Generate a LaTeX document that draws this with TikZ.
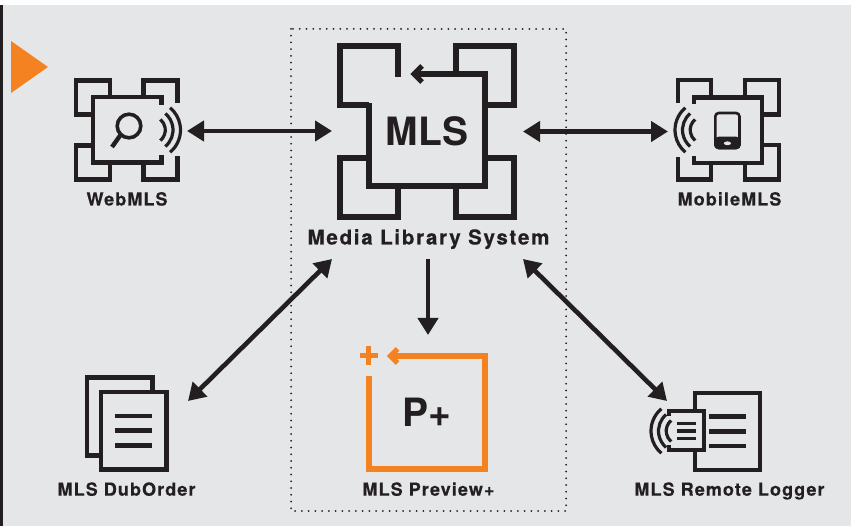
\documentclass[tikz,border=0pt]{standalone}
\usepackage{fontspec}
\setmainfont{TeX Gyre Heros}
\newfontfamily\labfont{TeX Gyre Heros Bold}[LetterSpace=6,FakeBold=0.4]
\newfontfamily\medfont{TeX Gyre Heros Bold}[LetterSpace=8.5,FakeBold=0.4]
\newfontfamily\bigfont{TeX Gyre Heros Bold}[LetterSpace=0.5]
\usetikzlibrary{arrows.meta}
\definecolor{bgray}{HTML}{E5E6E8}
\definecolor{ink}{HTML}{231F20}
\definecolor{mlsorange}{HTML}{F58220}
\tikzset{
 frame/.style={draw=ink,line width=4.4pt,line cap=butt,line join=miter},
 bigframe/.style={draw=ink,line width=5.6pt,line cap=butt,line join=miter},
 orangeline/.style={draw=mlsorange,line width=5.6pt,line cap=butt,line join=miter},
 rule/.style={draw=ink,line width=4.5pt},
 wave/.style={draw=ink,line width=3.2pt},
 link/.style={draw=ink,line width=4.6pt,{Triangle[length=17pt,width=20pt]}-{Triangle[length=17pt,width=20pt]}},
 linkone/.style={draw=ink,line width=4.6pt,-{Triangle[length=17pt,width=20pt]}},
 lab/.style={text=ink,inner sep=0pt,anchor=base,font=\labfont\fontsize{18}{20}\selectfont},
 medlab/.style={text=ink,inner sep=0pt,anchor=base,font=\medfont\fontsize{20.5}{22}\selectfont},
 bigtext/.style={text=ink,inner sep=0pt,anchor=base,font=\bigfont\fontsize{39}{44}\selectfont}
}
\newcommand{\wavesat}[3]{% centre x, centre y, direction (0 right, 180 left)
 \foreach \r in {13.8,21.5,29}{
  \draw[wave] ({#1+\r*cos(#3-50)},{#2-\r*sin(#3-50)}) arc[start angle=#3-50,end angle=#3+50,radius=\r pt,y radius=\r pt,x radius=\r pt];
 }}
\begin{document}
\begin{tikzpicture}[x=1pt,y=-1pt]
\useasboundingbox (0,0) rectangle (854,526);
\fill[white] (0,0) rectangle (854,526);
\fill[bgray] (3,5) rectangle (851,526);
\fill[ink] (0,5) rectangle (3,526);
\fill[mlsorange] (11,41) -- (48,67) -- (11,93) -- cycle;
% dotted box
\draw[ink,line width=2pt,line cap=round,dash pattern=on 0pt off 6.75pt] (291,29) rectangle (566,511);

% WebMLS icon
\draw[frame] (93,114.5) -- (76,114.5) -- (76,80.5) -- (110,80.5) -- (110,97);
\draw[frame] (143.5,97) -- (143.5,80.5) -- (177.5,80.5) -- (177.5,103);
\draw[frame] (93,145.5) -- (76,145.5) -- (76,179.5) -- (110,179.5) -- (110,162.5);
\draw[frame] (143.5,162.5) -- (143.5,179.5) -- (177.5,179.5) -- (177.5,156);
\draw[frame] (161.5,105) -- (161.5,97) -- (93,97) -- (93,162.5) -- (161.5,162.5) -- (161.5,155);
\draw[draw=ink,line width=3.6pt] (129,126) circle[radius=11.8pt];
\draw[draw=ink,line width=4.4pt] (120.5,135) -- (112,147);
\wavesat{151.5}{130}{0}

% MobileMLS icon
\draw[frame] (677.7,103) -- (677.7,80) -- (711,80) -- (711,97.5);
\draw[frame] (745,97.5) -- (745,80) -- (779,80) -- (779,114.5) -- (762,114.5);
\draw[frame] (762,145) -- (779,145) -- (779,179.5) -- (745,179.5) -- (745,163);
\draw[frame] (711,163) -- (711,179.5) -- (677.7,179.5) -- (677.7,157);
\draw[frame] (694,104.5) -- (694,97.5) -- (762,97.5) -- (762,163) -- (694,163) -- (694,156);
\draw[draw=ink,line width=2.6pt,rounded corners=3.5pt,fill=ink] (715.3,138) -- (715.3,148) -- (739.5,148) -- (739.5,138) -- cycle;
\draw[draw=ink,line width=2.6pt,rounded corners=3.5pt] (715.3,113) rectangle (739.5,148);
\fill[bgray] (727.4,143.3) ellipse[x radius=3.6pt,y radius=1.9pt];
\wavesat{704}{130}{180}

% MLS icon
\draw[bigframe] (369,105) -- (340,105) -- (340,46) -- (398,46) -- (398,77);
\draw[bigframe] (456,74) -- (456,46) -- (514,46) -- (514,105) -- (485,105);
\draw[bigframe] (369,158) -- (340,158) -- (340,217) -- (398,217) -- (398,186);
\draw[bigframe] (456,186) -- (456,217) -- (514,217) -- (514,158) -- (485,158);
\draw[bigframe] (414,74) -- (485,74) -- (485,186) -- (369,186) -- (369,103);
\draw[draw=ink,line width=5pt] (422,66) -- (414,74) -- (422,82);
\node[bigtext] (mlstext) at (427,146) {MLS};

% DubOrder icon
\draw[frame] (100.8,455.5) -- (86.7,455.5) -- (86.7,377.5) -- (152.5,377.5) -- (152.5,392);
\draw[frame] (100.8,392) rectangle (166.3,469.3);
\draw[rule] (115,416) -- (151.7,416);
\draw[rule] (115,430.7) -- (151.7,430.7);
\draw[rule] (115,445.3) -- (151.7,445.3);

% Preview+ icon
\draw[orangeline] (369,375.7) -- (369,469) -- (485,469) -- (485,356) -- (391,356);
\draw[draw=mlsorange,line width=5pt] (397.5,349) -- (390.5,356) -- (397.5,363);
\draw[draw=mlsorange,line width=5pt] (359.5,356) -- (378,356) (368.7,346.5) -- (368.7,365.5);
\node[bigtext] (ptext) at (427,426.5) {P+};

% Remote logger icon
\draw[frame] (694.8,411) -- (694.8,393) -- (760,393) -- (760,470) -- (694.8,470) -- (694.8,450);
\draw[frame] (669,416) -- (669,411) -- (704,411) -- (704,450) -- (669,450) -- (669,445);
\draw[rule] (709,416.7) -- (745.7,416.7);
\draw[rule] (709,431.3) -- (745.7,431.3);
\draw[rule] (709,446) -- (745.7,446);
\draw[draw=ink,line width=3.4pt] (676.7,423.3) -- (696,423.3) (676.7,430.9) -- (696,430.9) (676.7,438.7) -- (696,438.7);
\wavesat{680}{431}{180}

% Labels
\node[lab] (weblab) at (127,205.5) {WebMLS};
\node[lab] (mobilelab) at (729.5,205.5) {MobileMLS};
\node[medlab] (medialab) at (428.5,244.5) {Media Library System};
\node[lab] (dublab) at (126.5,495.7) {MLS DubOrder};
\node[lab] (prevlab) at (428.5,495.7) {MLS Preview+};
\node[lab] (remotelab) at (729.5,495.7) {MLS Remote Logger};

% Connector ends
\coordinate (webend) at (187,131);
\coordinate (mlswest) at (332,131);
\coordinate (mlseast) at (523,131.5);
\coordinate (mobileend) at (668,131.5);
\coordinate (mlssw) at (332,259);
\coordinate (dubend) at (188,401);
\coordinate (mlsse) at (523,259);
\coordinate (remoteend) at (667,401);
\coordinate (mlss) at (428,259);
\coordinate (prevend) at (428,335);
\draw[link] (webend) -- (mlswest);
\draw[link] (mlseast) -- (mobileend);
\draw[link] (mlssw) -- (dubend);
\draw[link] (mlsse) -- (remoteend);
\draw[linkone] (mlss) -- (prevend);
\end{tikzpicture}
\end{document}
